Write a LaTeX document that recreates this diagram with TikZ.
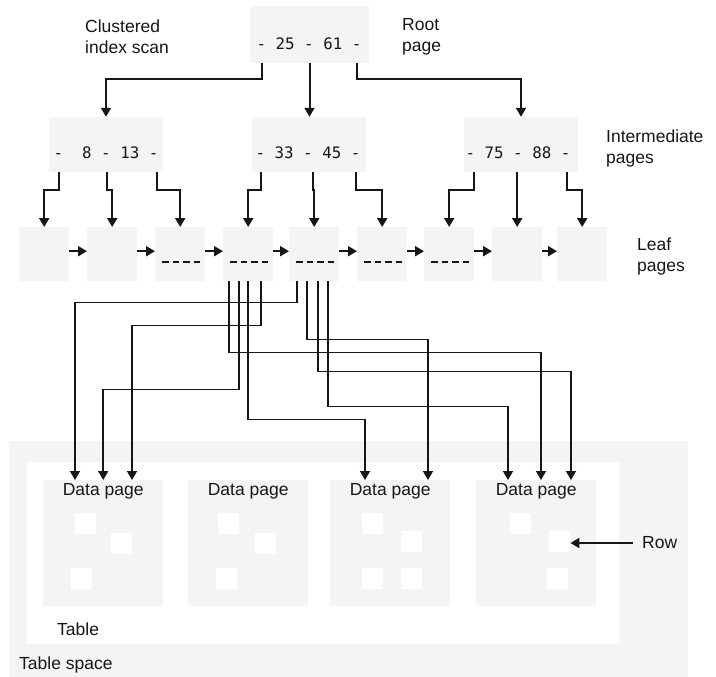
\documentclass[tikz,border=0pt]{standalone}
\usepackage{fontspec}
\setmainfont{Liberation Sans}
\setmonofont{DejaVu Sans Mono}
\usepackage{tikz}
\usetikzlibrary{positioning, arrows.meta, calc}
\definecolor{pagegray}{HTML}{F4F4F4}
\definecolor{ink}{HTML}{161616}

\begin{document}
\begin{tikzpicture}[
  x=1pt, y=-1pt,
  font=\fontsize{17.5}{21}\selectfont,
  text=ink,
  ipage/.style={fill=pagegray, minimum width=114pt, minimum height=55pt, inner sep=0pt},
  leaf/.style={fill=pagegray, minimum width=50pt, minimum height=54pt, inner sep=0pt, anchor=north west},
  datapage/.style={fill=pagegray, minimum width=120pt, minimum height=126pt, inner sep=0pt, anchor=north west},
  rowbox/.style={fill=white, minimum size=21pt, inner sep=0pt, anchor=north west},
  keys/.style={font=\ttfamily\fontsize{15.8}{19}\selectfont, inner sep=0pt},
  lbl/.style={anchor=west, align=left, inner sep=0pt},
  arr/.style={-{Triangle[length=9pt, width=10pt]}, draw=ink, line width=2pt},
  link/.style={arr, line width=1.6pt},
  dashline/.style={draw=ink, line width=2.2pt, dash pattern=on 6.5pt off 4pt},
]
\useasboundingbox (0,0) rectangle (716,677);

%% ---- table space and table ----
\fill[pagegray] (9,441) rectangle (688,677);
\fill[white] (27,462) rectangle (619,644);
\node[lbl] (tslbl) at (19,665) {Table space};
\node[lbl] (tlbl)  at (57,629) {Table};

%% ---- data pages with their rows ----
\foreach \i/\x in {1/43,2/188,3/330,4/476} {
  \node[datapage] (dp\i) at (\x,480) {};
  \node (dpl\i) at ([yshift=-11pt]dp\i.north) {Data page};
}
\foreach \n/\x/\y in {r11/75/513, r12/111/533, r13/71/568,
                      r21/218/513, r22/255/533, r23/216/568,
                      r31/362/513, r32/401/531, r33/362/568, r34/401/568,
                      r41/510/513, r42/549/531, r43/547/568}
  \node[rowbox] (\n) at (\x,\y) {};
\node[lbl] (rowlbl) at (642,543) {Row};
\draw[arr, shorten <=9pt] (rowlbl.west) -- (rowlbl.west -| r42.east);

%% ---- root and intermediate pages ----
\node[ipage, minimum width=119pt, minimum height=57pt] (root) at (309.5,34.5) {};
\node[keys] (rootkeys) at (309,44) {- 25 - 61 -};
\node[ipage] (ileft)  at (106,144.5) {};
\node[ipage] (imid)   at (308.5,144.5) {};
\node[ipage] (iright) at (521,144.5) {};
\node[keys] (lkeys) at (106,153) {-~~8 - 13 -};
\node[keys] (mkeys) at (308,153) {- 33 - 45 -};
\node[keys] (rkeys) at (518,153) {- 75 - 88 -};

\node[lbl] (scanlbl) at (85,37)  {Clustered\\index scan};
\node[lbl] (rootlbl) at (402,37) {Root\\page};
\node[lbl] (intlbl)  at (606,148) {Intermediate\\pages};

\draw[arr] ([xshift=12pt]root.south west) -- ++(0,16) -| (ileft.north);
\draw[arr] (root.south) -- (root.south |- imid.north);
\draw[arr] ([xshift=-12pt]root.south east) -- ++(0,16) -| (iright.north);

%% ---- leaf pages ----
\foreach \i/\x in {1/19,2/87,3/155,4/223,5/289,6/357,7/424,8/492,9/557}
  \node[leaf] (leaf\i) at (\x,227) {};
\foreach \i in {3,...,7}
  \draw[dashline] ([xshift=7pt,yshift=-8pt]leaf\i.west) -- ++(38,0);
\foreach \i [evaluate=\i as \j using int(\i+1)] in {1,...,8}
  \draw[arr] ([yshift=3pt]leaf\i.east) -- ([yshift=3pt]leaf\j.west);
\node[lbl] (leaflbl) at (637,256) {Leaf\\pages};

\draw[arr] ([xshift=10pt]ileft.south west)   -- ++(0,18) -| (leaf1.north);
\draw[arr] ([xshift=58pt]ileft.south west)   -- ++(0,18) -| (leaf2.north);
\draw[arr] ([xshift=108pt]ileft.south west)  -- ++(0,18) -| (leaf3.north);
\draw[arr] ([xshift=10pt]imid.south west)    -- ++(0,18) -| (leaf4.north);
\draw[arr] ([xshift=62pt]imid.south west)    -- ++(0,18) -| (leaf5.north);
\draw[arr] ([xshift=105pt]imid.south west)   -- ++(0,18) -| (leaf6.north);
\draw[arr] ([xshift=10pt]iright.south west)  -- ++(0,18) -| (leaf7.north);
\draw[arr] ([xshift=53pt]iright.south west)  -- ++(0,18) -| (leaf8.north);
\draw[arr] ([xshift=103pt]iright.south west) -- ++(0,18) -| (leaf9.north);

%% ---- leaf entries pointing at data pages ----
\draw[link] ([xshift=8pt]leaf5.south west)  -- ++(0,21)  -| ([xshift=32pt]dp1.north west);
\draw[link] ([xshift=38pt]leaf4.south west) -- ++(0,44)  -| ([xshift=89pt]dp1.north west);
\draw[link] ([xshift=16pt]leaf4.south west) -- ++(0,108) -| (dp1.north);
\draw[link] ([xshift=18pt]leaf5.south west) -- ++(0,58)  -| ([xshift=98pt]dp3.north west);
\draw[link] ([xshift=6pt]leaf4.south west)  -- ++(0,71)  -| ([xshift=65pt]dp4.north west);
\draw[link] ([xshift=29pt]leaf5.south west) -- ++(0,90)  -| ([xshift=95pt]dp4.north west);
\draw[link] ([xshift=39pt]leaf5.south west) -- ++(0,125) -| ([xshift=32pt]dp4.north west);
\draw[link] ([xshift=25pt]leaf4.south west) -- ++(0,138) -| ([xshift=35pt]dp3.north west);
\end{tikzpicture}
\end{document}
